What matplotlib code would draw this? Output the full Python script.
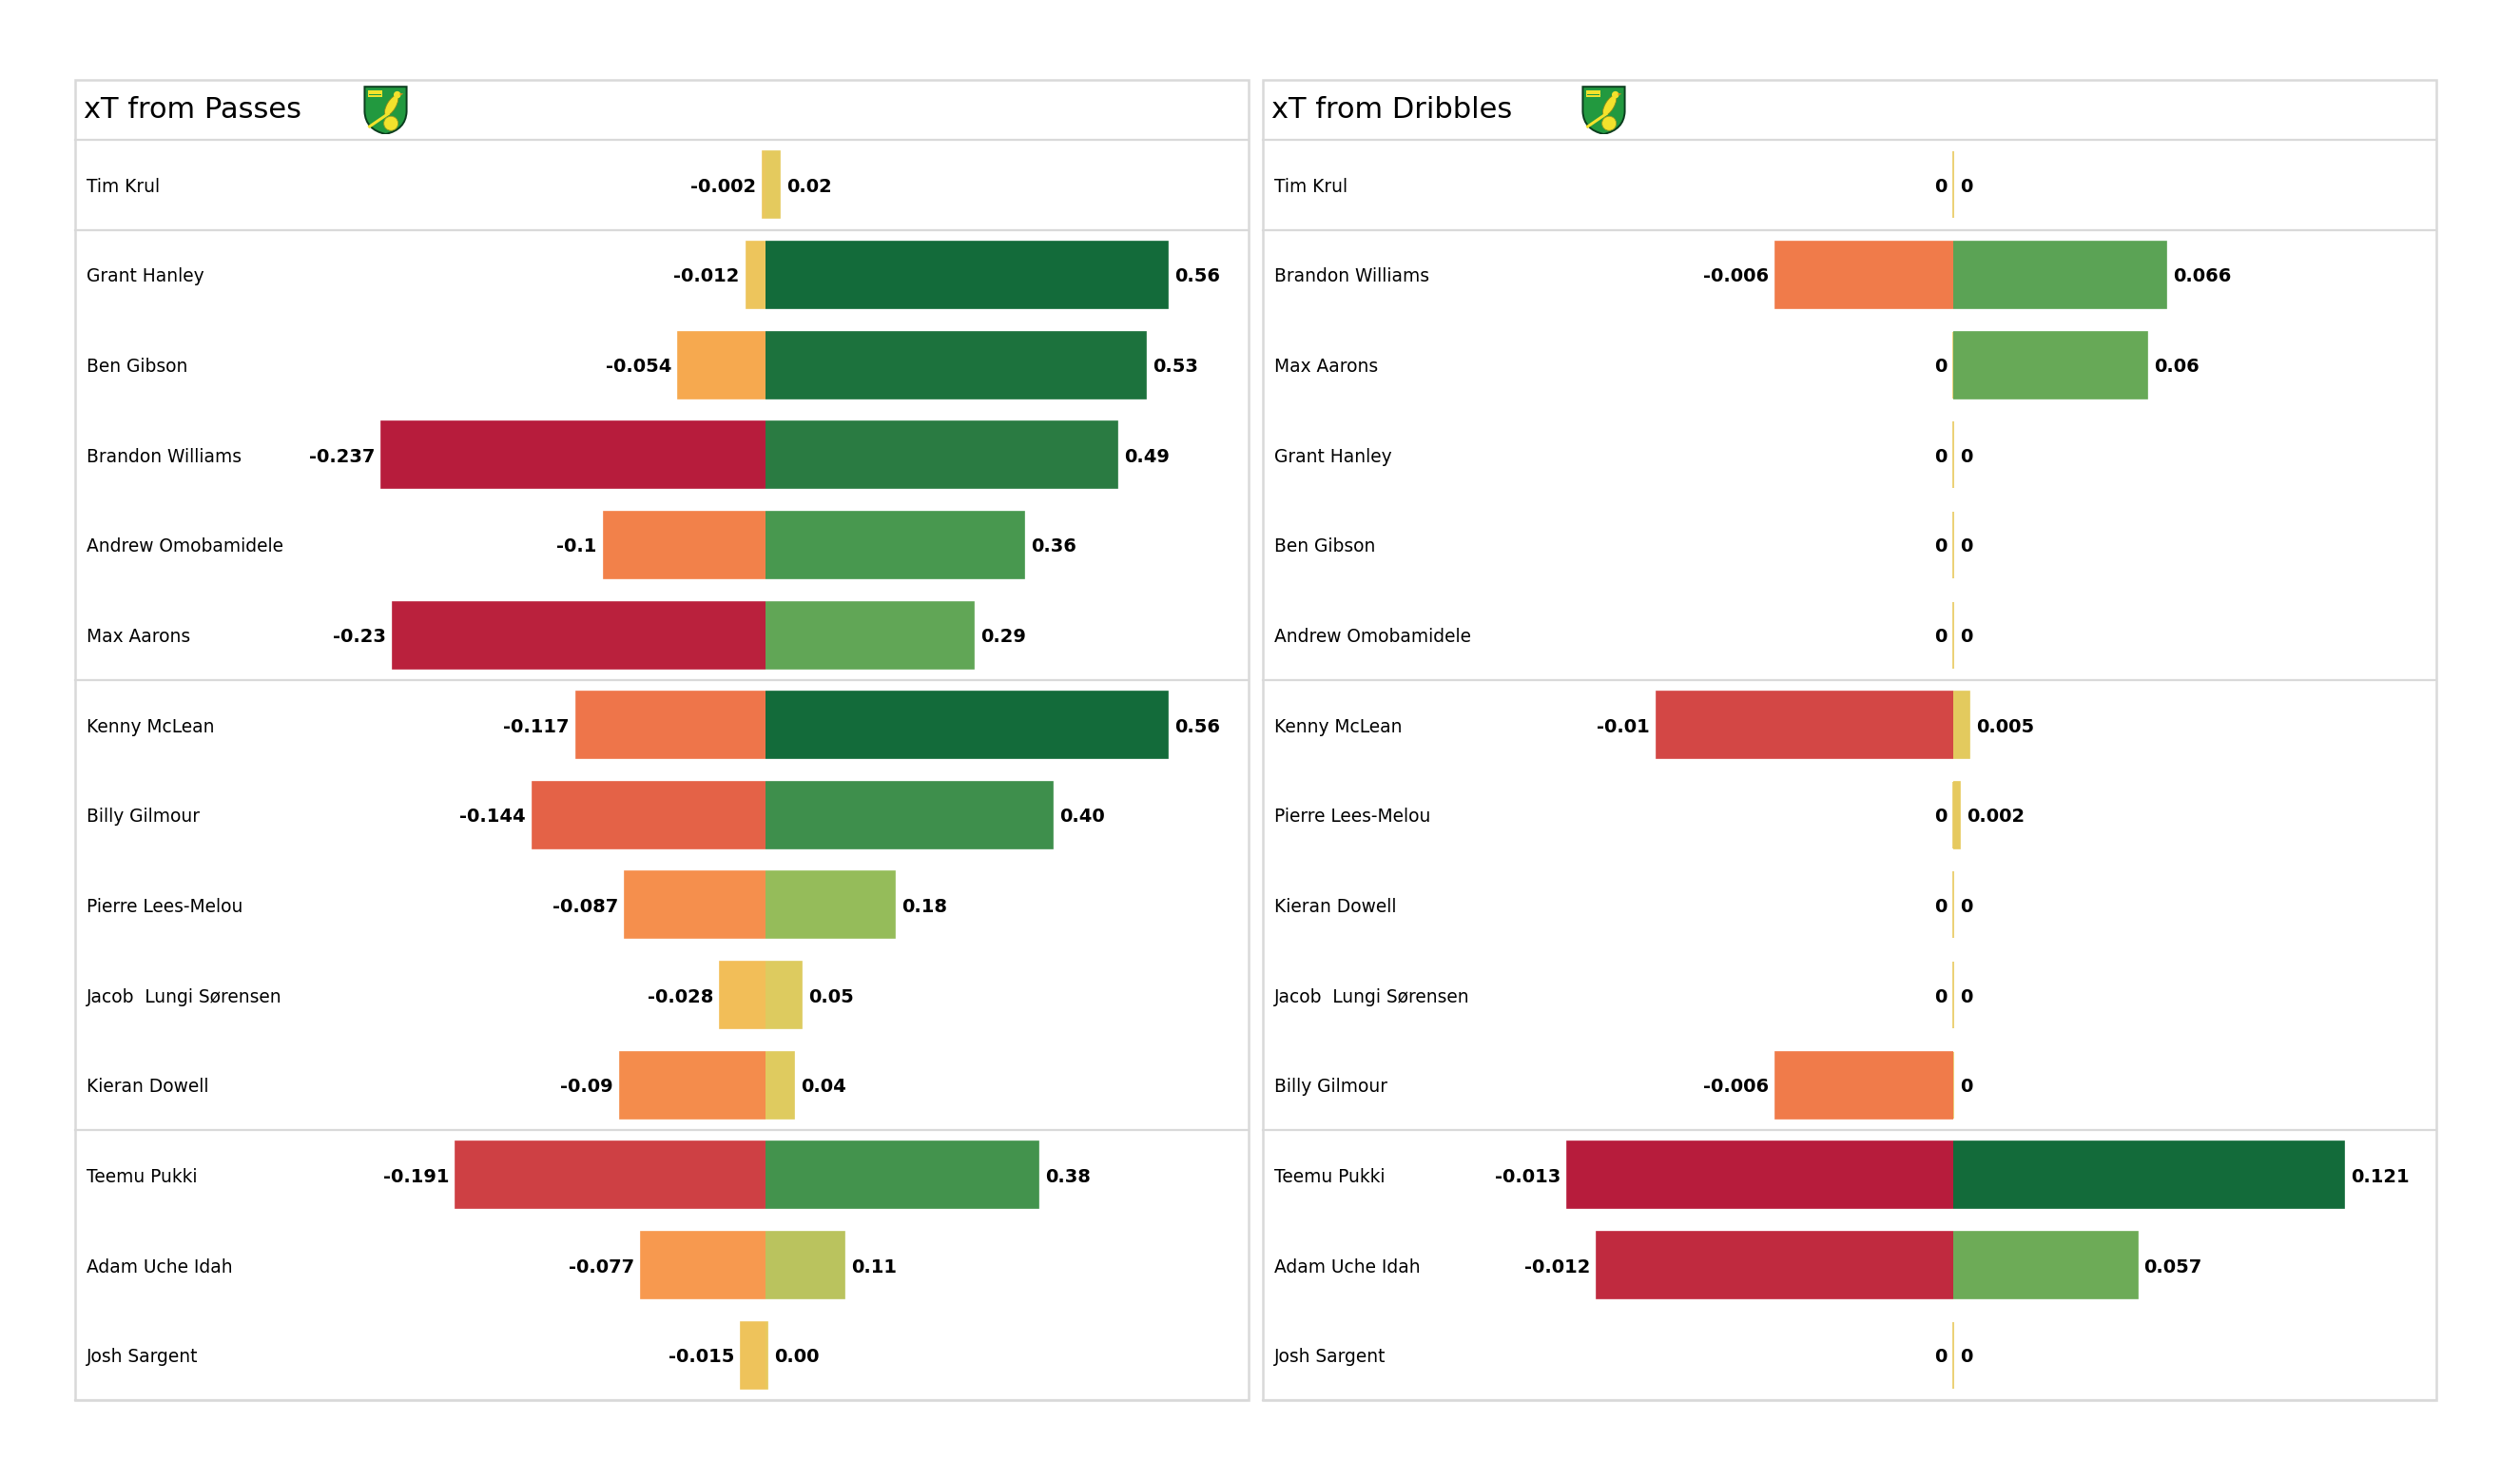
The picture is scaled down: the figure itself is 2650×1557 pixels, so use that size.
import numpy as np
import matplotlib
matplotlib.use('Agg')
import matplotlib.pyplot as plt
from matplotlib.colors import LinearSegmentedColormap
from matplotlib.patches import Rectangle, PathPatch, Ellipse, Circle, Polygon
from matplotlib.path import Path
from matplotlib.lines import Line2D
from matplotlib.transforms import blended_transform_factory

# --- data -------------------------------------------------------------
pass_players = ['Tim Krul', 'Grant Hanley', 'Ben Gibson', 'Brandon Williams',
                'Andrew Omobamidele', 'Max Aarons', 'Kenny McLean', 'Billy Gilmour',
                'Pierre Lees-Melou', 'Jacob  Lungi Sørensen', 'Kieran Dowell',
                'Teemu Pukki', 'Adam Uche Idah', 'Josh Sargent']
pass_neg = [-0.002, -0.012, -0.054, -0.237, -0.1, -0.23, -0.117, -0.144,
            -0.087, -0.028, -0.09, -0.191, -0.077, -0.015]
pass_pos = [0.02, 0.56, 0.53, 0.49, 0.36, 0.29, 0.56, 0.40,
            0.18, 0.05, 0.04, 0.38, 0.11, 0.003]

drib_players = ['Tim Krul', 'Brandon Williams', 'Max Aarons', 'Grant Hanley',
                'Ben Gibson', 'Andrew Omobamidele', 'Kenny McLean', 'Pierre Lees-Melou',
                'Kieran Dowell', 'Jacob  Lungi Sørensen', 'Billy Gilmour',
                'Teemu Pukki', 'Adam Uche Idah', 'Josh Sargent']
drib_neg = [0, -0.006, 0, 0, 0, 0, -0.01, 0, 0, 0, -0.006, -0.013, -0.012, 0]
drib_pos = [0, 0.066, 0.06, 0, 0, 0, 0.005, 0.002, 0, 0, 0, 0.121, 0.057, 0]

# position group boundaries (GK | DEF | MID | FWD)
group_breaks = [0.5, 5.5, 10.5, 13.5]

# colour scales, yellow at zero
neg_cmap = LinearSegmentedColormap.from_list('neg', [
    (0.0, '#E9C95E'), (0.12, '#F2BE58'), (0.23, '#F6A94F'), (0.32, '#F79A4F'),
    (0.42, '#F2824A'), (0.49, '#EE764A'), (0.61, '#E46247'), (0.81, '#CE4044'),
    (1.0, '#B71C3C')])
pos_cmap = LinearSegmentedColormap.from_list('pos', [
    (0.0, '#E8C95E'), (0.09, '#DDCB5F'), (0.196, '#BAC35E'), (0.32, '#95BC5A'),
    (0.52, '#60A656'), (0.64, '#48984F'), (0.71, '#3E8F4C'), (0.875, '#2A7B42'),
    (1.0, '#136B3A')])

# --- layout (pixels of the 2650x1557 canvas) --------------------------
W, H = 2650, 1557
BOX_W = 1234
BOX_TOP, TITLE_BOT, BOX_BOT = 84, 147, 1472
ZERO_OFF = 726
LINE_C = '#d9d9d9'

fig = plt.figure(figsize=(W / 200, H / 200), dpi=200)
fig.patch.set_facecolor('white')


def fx(px):
    return px / W


def fy(py):
    return 1 - py / H


def draw_crest(ax):
    ax.set_xlim(0, 1)
    ax.set_ylim(0, 51 / 47)
    ax.axis('off')
    verts = [(0.03, 1.06), (0.97, 1.06), (0.97, 0.5), (0.95, 0.1), (0.5, 0.0),
             (0.05, 0.1), (0.03, 0.5), (0.03, 1.06)]
    codes = [Path.MOVETO, Path.LINETO, Path.LINETO, Path.CURVE3, Path.CURVE3,
             Path.CURVE3, Path.CURVE3, Path.CLOSEPOLY]
    ax.add_patch(PathPatch(Path(verts, codes), facecolor='#22993F',
                           edgecolor='#0B3D1E', lw=0.7))
    yel = '#F3E22C'
    ax.add_patch(Rectangle((0.1, 0.82), 0.32, 0.16, facecolor=yel, edgecolor='none'))
    ax.add_patch(Rectangle((0.12, 0.87), 0.28, 0.025, facecolor='#22993F', edgecolor='none'))
    ax.add_line(Line2D([0.55, 0.14], [0.45, 0.17], color=yel, lw=1.1))
    ax.add_patch(Ellipse((0.63, 0.64), 0.2, 0.5, angle=-30, facecolor=yel,
                         edgecolor='#8A8A1A', lw=0.3))
    ax.add_patch(Circle((0.76, 0.88), 0.08, facecolor=yel, edgecolor='none'))
    ax.add_patch(Polygon([(0.82, 0.92), (0.9, 0.9), (0.82, 0.86)], facecolor='#E08A1A',
                         edgecolor='none'))
    ax.add_patch(Circle((0.62, 0.24), 0.16, facecolor=yel, edgecolor='#9A9A20', lw=0.3))


def draw_panel(left, title, players, neg, pos, pos_fmt, logo_dx, neg_px, pos_px):
    right = left + BOX_W
    zero = left + ZERO_OFF
    hgt = (BOX_BOT - TITLE_BOT) / H
    ax_n = fig.add_axes([fx(left), fy(BOX_BOT), ZERO_OFF / W, hgt])
    ax_p = fig.add_axes([fx(zero), fy(BOX_BOT), (BOX_W - ZERO_OFF) / W, hgt])

    rows = np.arange(len(players))
    neg = np.array(neg, dtype=float)
    pos = np.array(pos, dtype=float)
    nmax = -neg.min()
    pmax = pos.max()
    ncol = neg_cmap(-neg / nmax)
    pcol = pos_cmap(pos / pmax)

    ax_n.barh(rows, neg, height=0.74, color=ncol, edgecolor=ncol, lw=0.6)
    ax_p.barh(rows, pos, height=0.74, color=pcol, edgecolor=pcol, lw=0.6)

    for i in rows:
        ax_n.annotate(f"{neg[i]:g}" if neg[i] != 0 else "0", (neg[i], i),
                      xytext=(-2.5, 0), textcoords='offset points',
                      ha='right', va='center_baseline', fontsize=7, fontweight='bold')
        ax_p.annotate(pos_fmt(pos[i]), (pos[i], i), xytext=(2.5, 0),
                      textcoords='offset points', ha='left', va='center_baseline',
                      fontsize=7, fontweight='bold')

    # the longest bar on each side spans a fixed number of pixels
    ax_n.set_xlim(-nmax * ZERO_OFF / neg_px, 0)
    ax_p.set_xlim(0, pmax * (BOX_W - ZERO_OFF) / pos_px)
    for ax in (ax_n, ax_p):
        ax.set_ylim(len(players) - 0.5, -0.5)
        ax.axis('off')

    trans = blended_transform_factory(fig.transFigure, ax_n.transData)
    for i, name in enumerate(players):
        ax_n.text(fx(left + 12), i, name, transform=trans, ha='left',
                  va='center_baseline', fontsize=6.7)
    for y in group_breaks:
        fig.add_artist(Line2D([fx(left), fx(right)], [y, y], transform=trans,
                              color=LINE_C, lw=0.8))

    # title row and frame
    fig.add_artist(Line2D([fx(left), fx(right)], [fy(TITLE_BOT)] * 2,
                          transform=fig.transFigure, color=LINE_C, lw=0.8))
    fig.add_artist(Rectangle((fx(left), fy(BOX_BOT)), BOX_W / W,
                             (BOX_BOT - BOX_TOP) / H, transform=fig.transFigure,
                             fill=False, edgecolor=LINE_C, lw=0.9))
    fig.text(fx(left + 9), fy(116), title, fontsize=11, ha='left', va='center')

    ax_l = fig.add_axes([fx(left + logo_dx), fy(141), 47 / W, 51 / H])
    draw_crest(ax_l)


draw_panel(79, 'xT from Passes', pass_players, pass_neg, pass_pos,
           lambda v: f"{v:.2f}", 303, 404, 423)
draw_panel(1328, 'xT from Dribbles', drib_players, drib_neg, drib_pos,
           lambda v: f"{v:g}" if v != 0 else "0", 335, 406, 411)

fig.savefig('out.png', dpi=200, facecolor='white')
